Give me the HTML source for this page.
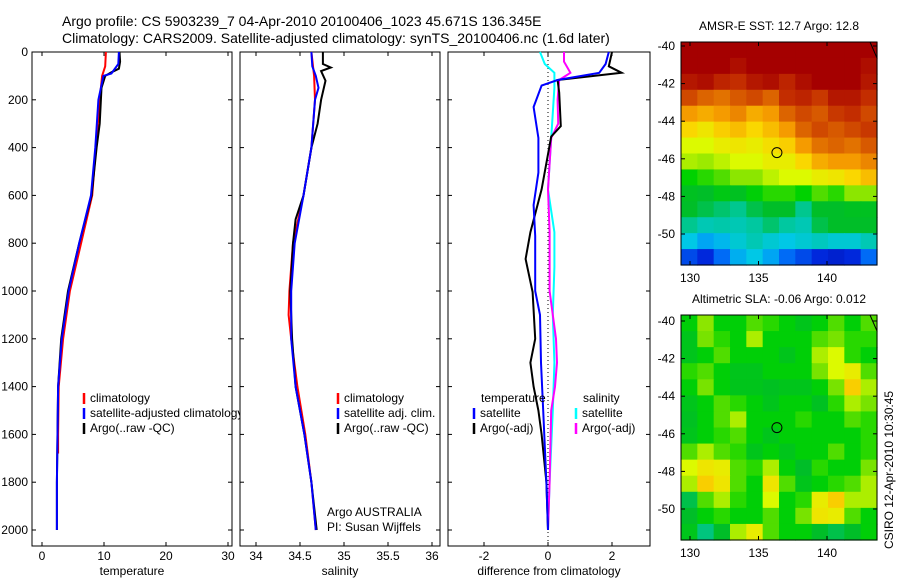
<!DOCTYPE html>
<html><head><meta charset="utf-8">
<style>
html,body{margin:0;padding:0;background:#fff;}
svg{display:block;font-family:"Liberation Sans",sans-serif;font-size:12px;}
</style></head>
<body>
<svg id="fig" width="900" height="580" viewBox="0 0 900 580">
<text x="62" y="26" font-size="14">Argo profile: CS 5903239_7 04-Apr-2010 20100406_1023 45.671S 136.345E</text>
<text x="62" y="43" font-size="14">Climatology: CARS2009. Satellite-adjusted climatology: synTS_20100406.nc (1.6d later)</text>
<g id="plots"></g>
<text transform="translate(893,470) rotate(-90)" text-anchor="middle" font-size="12">CSIRO 12-Apr-2010 10:30:45</text>
</svg>
<script>
// ---------- data ----------
const depthTicks = [0,200,400,600,800,1000,1200,1400,1600,1800,2000];
const tempTicks = [0,10,20,30];
const salTicks = [34,34.5,35,35.5,36];
const salTickLabels = ["34","34.5","35","35.5","36"];
const diffTicks = [-2,0,2];

const tClimDepth = [0,60,100,200,400,600,800,1000,1200,1400,1600,1680];
const tClim      = [10.3,10.2,9.7,9.3,8.7,8.1,6.3,4.5,3.4,2.7,2.6,2.6];
const tSatDepth = [0,50,90,100,200,400,600,800,1000,1200,1400,1600,1800,2000];
const tSat      = [12.4,12.3,11.2,9.9,9.1,8.6,7.9,6.0,4.3,3.2,2.6,2.5,2.4,2.4];
const tArgoDepth = [0,40,70,85,100,150,300,400,600,800,1000,1200,1400,1600,1800,2000];
const tArgo      = [12.5,12.6,12.4,11.2,10.2,9.6,9.3,8.8,8.0,6.0,4.2,3.1,2.6,2.5,2.4,2.4];

const sClimDepth = [0,100,200,400,600,800,1000,1100,1200,1400,1600,1800,2000];
const sClim      = [34.63,34.66,34.67,34.63,34.54,34.42,34.38,34.37,34.40,34.47,34.56,34.63,34.68];
const sSatDepth = [0,60,100,150,200,400,600,800,1000,1200,1400,1600,1800,2000];
const sSat      = [34.63,34.64,34.68,34.71,34.67,34.63,34.54,34.44,34.40,34.40,34.45,34.55,34.63,34.68];
const sArgoDepth = [0,50,65,80,120,200,300,400,600,700,800,1000,1200,1400,1600,1800,2000];
const sArgo      = [34.76,34.76,34.85,34.74,34.79,34.74,34.70,34.63,34.54,34.45,34.42,34.39,34.41,34.45,34.55,34.63,34.69];

const dTSatDepth = [0,50,87,117,140,230,360,505,640,770,1000,1100,1300,1500,1800,2000];
const dTSat      = [1.9,1.8,1.6,0.3,-0.2,-0.45,-0.3,-0.3,-0.45,-0.4,-0.4,-0.25,-0.22,-0.15,-0.05,0];
const dTArgoDepth = [0,60,87,117,170,310,354,575,754,866,1004,1200,1300,1400,1500,1600,1800,2000];
const dTArgo      = [2.0,1.9,2.3,0.3,0.35,0.4,0.1,-0.2,-0.55,-0.7,-0.48,-0.4,-0.55,-0.45,-0.3,-0.2,-0.05,0];
const dSSatDepth = [0,50,87,150,360,575,754,900,1100,1300,1500,1800,2000];
const dSSat      = [-0.25,-0.1,0.2,0.2,0.1,0,0.2,0.2,0.15,0.2,0.15,0.05,0];
const dSArgoDepth = [0,40,87,117,200,300,360,575,754,1000,1200,1300,1400,1500,1800,2000];
const dSArgo      = [0.5,0.5,0.7,0.35,0.3,0.32,0.1,0,0.05,0.05,0.25,0.28,0.22,0.1,0.05,0];

const mapLonTicks = [130,135,140];
const mapLatTicks = [-40,-42,-44,-46,-48,-50];
const argoLon = 136.345, argoLat = -45.671;
const sstGrid = [
[1,1,1,1,1,1,1,1,1,1,1,1],
[1,1,1,.97,1,1,1,1,1,1,1,.97],
[.95,.97,.92,.9,.95,.97,.92,.97,1,1,1,.95],
[.85,.8,.78,.82,.85,.8,.9,.92,.88,.95,.95,.9],
[.72,.7,.72,.75,.7,.72,.8,.85,.82,.88,.9,.85],
[.65,.63,.66,.68,.65,.68,.72,.8,.85,.82,.85,.88],
[.6,.6,.62,.63,.62,.64,.66,.72,.78,.8,.78,.82],
[.57,.56,.58,.6,.6,.62,.62,.65,.7,.72,.72,.75],
[.48,.5,.52,.55,.55,.58,.6,.6,.62,.63,.65,.68],
[.43,.42,.45,.43,.47,.5,.5,.48,.52,.5,.55,.55],
[.42,.4,.38,.36,.4,.42,.42,.36,.42,.42,.43,.43],
[.36,.33,.34,.33,.35,.38,.35,.33,.4,.42,.42,.42],
[.28,.24,.26,.3,.33,.3,.28,.3,.32,.3,.3,.33],
[.15,.12,.18,.25,.28,.24,.18,.15,.12,.1,.12,.18]];
const slaGrid = [
[.47,.55,.47,.47,.52,.5,.47,.44,.47,.52,.47,.52],
[.44,.54,.5,.47,.57,.47,.47,.47,.52,.54,.5,.5],
[.44,.47,.52,.47,.47,.47,.44,.47,.57,.6,.5,.47],
[.5,.52,.47,.44,.44,.47,.47,.47,.54,.6,.62,.52],
[.47,.54,.47,.44,.44,.43,.44,.44,.47,.54,.66,.57],
[.44,.47,.52,.5,.47,.44,.47,.47,.43,.5,.57,.54],
[.43,.47,.52,.57,.47,.47,.47,.5,.47,.47,.52,.5],
[.44,.47,.5,.52,.47,.44,.47,.47,.47,.47,.47,.5],
[.52,.57,.52,.5,.44,.47,.44,.47,.47,.52,.47,.5],
[.6,.63,.62,.52,.5,.57,.47,.42,.5,.47,.47,.54],
[.57,.66,.63,.52,.47,.63,.52,.44,.47,.5,.52,.57],
[.4,.52,.57,.5,.47,.6,.47,.5,.62,.66,.57,.57],
[.42,.47,.5,.47,.47,.52,.47,.54,.63,.62,.52,.47],
[.44,.37,.42,.57,.62,.52,.47,.47,.42,.4,.42,.47]];

// ---------- helpers ----------
const NS="http://www.w3.org/2000/svg";
const root=document.getElementById('plots');
function mk(tag,attrs,parent){const e=document.createElementNS(NS,tag);for(const k in attrs)e.setAttribute(k,attrs[k]);(parent||root).appendChild(e);return e;}
function lin(d0,d1,r0,r1){return v=>r0+(v-d0)*(r1-r0)/(d1-d0);}
const yTop=52, yBot=546;
const yD=lin(0,2000,52,530);

function panel(name,x0,x1,xs,ticks,labels,xlabel,showY){
  const g=mk('g',{});
  
  
  const r=mk('rect',{x:x0,y:yTop,width:x1-x0,height:yBot-yTop,fill:'#fff',stroke:'#000','stroke-width':1},g);
  
  
  depthTicks.forEach(d=>{
    const y=yD(d);
    mk('line',{x1:x0,x2:x0+4,y1:y,y2:y,stroke:'#000'},g);
    mk('line',{x1:x1-4,x2:x1,y1:y,y2:y,stroke:'#000'},g);
    if(showY){const t=mk('text',{x:x0-4,y:y+4,'text-anchor':'end'},g);t.textContent=d;
      
      }
  });
  ticks.forEach((v,i)=>{
    const x=xs(v);
    mk('line',{x1:x,x2:x,y1:yBot,y2:yBot-4,stroke:'#000'},g);
    mk('line',{x1:x,x2:x,y1:yTop,y2:yTop+4,stroke:'#000'},g);
    const t=mk('text',{x:x,y:yBot+14,'text-anchor':'middle'},g);t.textContent=labels[i];
    
    
  });
  const xl=mk('text',{x:(x0+x1)/2,y:yBot+29,'text-anchor':'middle'},g);xl.textContent=xlabel;
  
  
  return g;
}
function series(g,name,xs,depths,vals,color,w){
  const pts=depths.map((d,i)=>xs(vals[i]).toFixed(1)+','+yD(d).toFixed(1)).join(' ');
  const p=mk('polyline',{points:pts,fill:'none',stroke:color,'stroke-width':w||2},g);
  
  
}
function legend(g,x,y,color,text,name){
  mk('line',{x1:x,x2:x,y1:y-9,y2:y+2,stroke:color,'stroke-width':2.5},g);
  const t=mk('text',{x:x+6,y:y},g);t.textContent=text;
  
  
}

// panel 1 temperature
const xT=lin(0,30,42,228);
const g1=panel('temperature-panel',32,232,xT,tempTicks,tempTicks.map(String),'temperature',true);
series(g1,'temperature-climatology',xT,tClimDepth,tClim,'#f00');
series(g1,'temperature-argo',xT,tArgoDepth,tArgo,'#000');
series(g1,'temperature-satellite',xT,tSatDepth,tSat,'#00f');
legend(g1,84,402,'#f00','climatology','legend-climatology');
legend(g1,84,417,'#00f','satellite-adjusted climatology','legend-satellite');
legend(g1,84,432,'#000','Argo(..raw -QC)','legend-argo');

// panel 2 salinity
const xS=lin(34,36,256,432);
const g2=panel('salinity-panel',240,440,xS,salTicks,salTickLabels,'salinity',false);
series(g2,'salinity-climatology',xS,sClimDepth,sClim,'#f00');
series(g2,'salinity-argo',xS,sArgoDepth,sArgo,'#000');
series(g2,'salinity-satellite',xS,sSatDepth,sSat,'#00f');
legend(g2,338,402,'#f00','climatology','legend-sal-climatology');
legend(g2,338,417,'#00f','satellite adj. clim.','legend-sal-satellite');
legend(g2,338,432,'#000','Argo(..raw -QC)','legend-sal-argo');
const a1=mk('text',{x:327,y:516},g2);a1.textContent='Argo AUSTRALIA';


const a2=mk('text',{x:327,y:531},g2);a2.textContent='PI: Susan Wijffels';



// panel 3 differences
const xDf=lin(-2,2,484,612);
const g3=panel('difference-panel',448,650,xDf,diffTicks,diffTicks.map(String),'difference from climatology',false);
mk('line',{x1:xDf(0),x2:xDf(0),y1:yTop,y2:yBot,stroke:'#000','stroke-dasharray':'1,3'},g3);
series(g3,'salinity-diff-satellite',xDf,dSSatDepth,dSSat,'#0ff');
series(g3,'salinity-diff-argo',xDf,dSArgoDepth,dSArgo,'#f0f');
series(g3,'temperature-diff-argo',xDf,dTArgoDepth,dTArgo,'#000');
series(g3,'temperature-diff-satellite',xDf,dTSatDepth,dTSat,'#00f');
const lt=mk('text',{x:481,y:402},g3);lt.textContent='temperature';


const ls=mk('text',{x:583,y:402},g3);ls.textContent='salinity';


legend(g3,474,417,'#00f','satellite','legend-diff-t-satellite');
legend(g3,474,432,'#000','Argo(-adj)','legend-diff-t-argo');
legend(g3,576,417,'#0ff','satellite','legend-diff-s-satellite');
legend(g3,576,432,'#f0f','Argo(-adj)','legend-diff-s-argo');

// ---------- maps ----------
const cmapStops=[[0,0,0,140],[0.12,0,40,220],[0.2,0,130,255],[0.28,0,200,230],[0.35,0,200,160],[0.42,0,190,40],[0.48,0,210,0],[0.55,140,230,0],[0.6,220,250,0],[0.65,250,215,0],[0.72,245,155,0],[0.8,220,100,0],[0.9,195,45,0],[1,165,0,0]];
function cmap(v){v=Math.max(0,Math.min(1,v));
  for(let i=1;i<cmapStops.length;i++){const a=cmapStops[i-1],b=cmapStops[i];
    if(v<=b[0]){const t=(v-a[0])/(b[0]-a[0]);
      return 'rgb('+[1,2,3].map(k=>Math.round(a[k]+t*(b[k]-a[k]))).join(',')+')';}}
  return 'rgb(165,0,0)';}
function drawMap(name,title,grid,mx0,mx1,my0,my1,latTop){
  const g=mk('g',{});
  
  
  const xL=lin(130,140,690,827);
  const yL=lin(-40,-50,latTop,latTop+188);
  const lon0=130+(mx0-690)/13.7, lon1=130+(mx1-690)/13.7;
  const lat0=-40-(my0-latTop)/18.8, lat1=-40-(my1-latTop)/18.8;
  const rows=grid.length, cols=grid[0].length;
  const dLon=(lon1-lon0)/cols, dLat=(lat0-lat1)/rows;
  grid.forEach((row,r)=>row.forEach((v,c)=>{
    const xa=xL(lon0+c*dLon), xb=xL(lon0+(c+1)*dLon);
    const ya=yL(lat0-r*dLat), yb=yL(lat0-(r+1)*dLat);
    const cell=mk('rect',{x:xa.toFixed(2),y:ya.toFixed(2),width:(xb-xa+0.6).toFixed(2),height:(yb-ya+0.6).toFixed(2),fill:cmap(v)},g);
    
    
  }));
  mk('line',{x1:mx1-7,y1:my0,x2:mx1,y2:my0+16,stroke:'#000'},g);
  const fr=mk('rect',{x:mx0,y:my0,width:mx1-mx0,height:my1-my0,fill:'none',stroke:'#000'},g);
  
  
  mapLatTicks.forEach(lat=>{const y=yL(lat);
    mk('line',{x1:mx0,x2:mx0+4,y1:y,y2:y,stroke:'#000'},g);
    mk('line',{x1:mx1-4,x2:mx1,y1:y,y2:y,stroke:'#000'},g);
    const t=mk('text',{x:mx0-6,y:y+4,'text-anchor':'end'},g);t.textContent=lat;
    
    });
  mapLonTicks.forEach(lon=>{const x=xL(lon);
    mk('line',{x1:x,x2:x,y1:my1,y2:my1-4,stroke:'#000'},g);
    mk('line',{x1:x,x2:x,y1:my0,y2:my0+4,stroke:'#000'},g);
    const t=mk('text',{x:x,y:my1+17,'text-anchor':'middle'},g);t.textContent=lon;
    
    });
  const c=mk('circle',{cx:xL(argoLon),cy:yL(argoLat),r:5,fill:'none',stroke:'#000'},g);
  
  
  const tt=mk('text',{x:(mx0+mx1)/2,y:my0-12,'text-anchor':'middle'},g);tt.textContent=title;
  
  
}
drawMap('sst-map','AMSR-E SST: 12.7 Argo: 12.8',sstGrid,681,877,42,265,46);
drawMap('sla-map','Altimetric SLA: -0.06 Argo: 0.012',slaGrid,681,877,315,540,321);
</script>
</body></html>
